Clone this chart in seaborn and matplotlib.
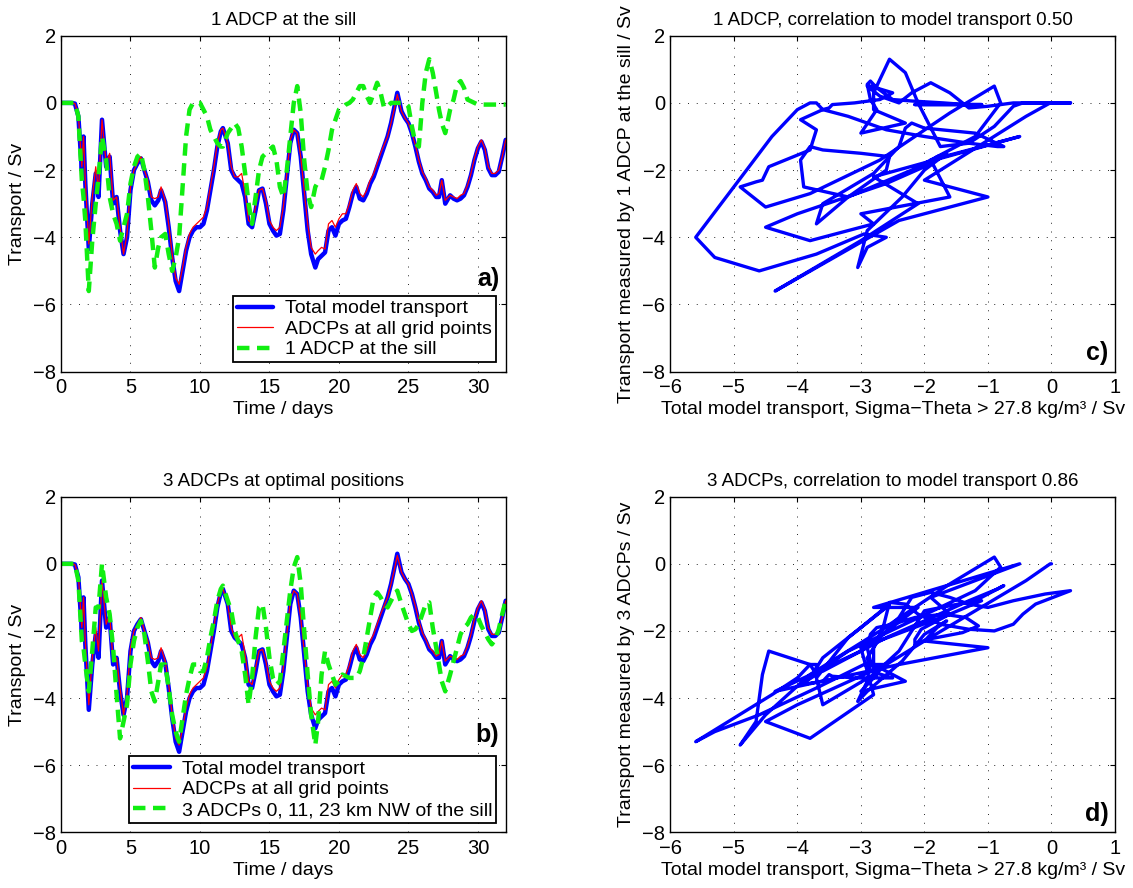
import matplotlib
matplotlib.use("Agg")
import matplotlib.pyplot as plt
import seaborn as sns

# ---------------- data ----------------
time_days = [0, 0.25, 0.5, 0.75, 1.0, 1.25, 1.5, 1.62, 1.75, 2.0,
             2.25, 2.5, 2.7, 2.95, 3.25, 3.5, 3.75, 4.0, 4.25, 4.5,
             4.75, 5.0, 5.25, 5.5, 5.75, 6.0, 6.25, 6.5, 6.75, 7.0,
             7.2, 7.5, 7.75, 8.0, 8.25, 8.5, 8.75, 9.0, 9.25, 9.5,
             9.75, 10.0, 10.25, 10.5, 10.75, 11.0, 11.25, 11.5, 11.65, 12.0,
             12.25, 12.5, 12.75, 13.0, 13.25, 13.5, 13.75, 14.0, 14.25, 14.5,
             14.75, 15.0, 15.25, 15.5, 15.75, 16.0, 16.25, 16.5, 16.75, 17.0,
             17.25, 17.5, 17.75, 18.0, 18.3, 18.5, 18.75, 19.0, 19.25, 19.5,
             19.75, 20.0, 20.25, 20.5, 20.75, 21.0, 21.25, 21.5, 21.75, 22.0,
             22.25, 22.5, 22.75, 23.0, 23.25, 23.5, 23.75, 24.0, 24.2, 24.5,
             24.75, 25.0, 25.25, 25.5, 25.75, 26.0, 26.25, 26.5, 26.75, 27.0,
             27.2, 27.4, 27.65, 28.0, 28.25, 28.5, 28.75, 29.0, 29.25, 29.5,
             29.75, 30.0, 30.25, 30.5, 30.75, 31.0, 31.25, 31.5, 31.75, 32.0]

total_model = [0, 0, 0, 0, -0.02, -0.4, -2.0, -1.0, -2.4, -4.35,
               -3.0, -2.1, -2.8, -0.5, -1.9, -1.6, -3.0, -2.8, -3.8, -4.5,
               -4.0, -2.6, -2.0, -1.8, -1.65, -2.0, -2.35, -2.9, -3.05, -2.9,
               -2.6, -2.95, -3.7, -4.6, -5.3, -5.6, -5.0, -4.4, -4.0, -3.8,
               -3.7, -3.7, -3.6, -3.2, -2.6, -2.0, -1.3, -0.85, -0.75, -1.2,
               -2.0, -2.2, -2.3, -2.4, -2.8, -3.6, -3.7, -3.2, -2.6, -2.55,
               -3.0, -3.6, -3.8, -3.95, -3.9, -3.2, -2.2, -1.2, -0.8, -0.9,
               -1.6, -2.7, -3.8, -4.5, -4.9, -4.65, -4.55, -4.45, -3.8, -3.7,
               -3.95, -3.6, -3.5, -3.45, -3.1, -2.7, -2.5, -2.85, -2.9, -2.7,
               -2.4, -2.2, -1.9, -1.6, -1.3, -1.0, -0.6, -0.1, 0.3, -0.25,
               -0.45, -0.6, -0.9, -1.3, -1.75, -2.1, -2.3, -2.55, -2.65, -2.8,
               -2.8, -2.3, -3.0, -2.75, -2.85, -2.9, -2.85, -2.75, -2.5, -2.15,
               -1.7, -1.35, -1.15, -1.4, -1.95, -2.15, -2.15, -2.05, -1.6, -1.1]

all_grid_points = [0, 0, 0, 0, -0.02, -0.35, -1.9, -1.0, -2.3, -4.2,
                   -2.8, -1.9, -2.6, -0.5, -1.8, -1.5, -2.9, -2.8, -3.7, -4.5,
                   -3.9, -2.5, -2.0, -1.8, -1.6, -2.0, -2.3, -2.8, -2.85, -2.8,
                   -2.5, -2.9, -3.6, -4.5, -5.2, -5.4, -4.9, -4.3, -3.9, -3.7,
                   -3.6, -3.5, -3.4, -3.1, -2.5, -1.9, -1.2, -0.8, -0.75, -1.2,
                   -1.9, -2.2, -2.2, -2.1, -2.7, -3.5, -3.6, -3.1, -2.6, -2.55,
                   -2.9, -3.5, -3.7, -3.8, -3.7, -3.1, -2.1, -1.1, -0.8, -0.9,
                   -1.6, -2.6, -3.6, -4.3, -4.5, -4.4, -4.3, -4.35, -3.6, -3.5,
                   -3.7, -3.45, -3.3, -3.3, -3.0, -2.6, -2.4, -2.7, -2.8, -2.6,
                   -2.3, -2.1, -1.8, -1.5, -1.25, -1.0, -0.6, -0.15, 0.25, -0.25,
                   -0.45, -0.6, -0.9, -1.25, -1.7, -2.05, -2.25, -2.5, -2.6, -2.75,
                   -2.7, -2.3, -2.9, -2.75, -2.8, -2.85, -2.75, -2.7, -2.45, -2.1,
                   -1.65, -1.3, -1.1, -1.35, -1.9, -2.1, -2.1, -2.0, -1.6, -1.1]

one_adcp_sill = [0, 0, 0, 0, 0, -0.4, -2.3, -2.8, -3.5, -5.6,
                 -4.1, -3.0, -2.2, -1.0, -1.7, -2.8, -3.3, -3.6, -4.1, -3.7,
                 -3.3, -2.4, -1.9, -1.6, -1.5, -2.0, -2.8, -3.8, -4.9, -4.3,
                 -4.0, -3.9, -4.5, -5.0, -4.6, -4.0, -2.5, -1.0, -0.2, 0,
                 0, 0, -0.2, -0.4, -0.8, -1.0, -1.2, -1.3, -1.3, -0.9,
                 -0.75, -0.6, -0.75, -1.3, -2.1, -3.0, -3.6, -2.8, -2.0, -1.6,
                 -1.5, -1.4, -1.3, -1.7, -2.5, -2.8, -2.0, -1.0, 0.0, 0.5,
                 -0.3, -1.7, -2.7, -3.1, -2.5, -2.35, -2.3, -1.9, -1.4, -0.8,
                 -0.5, -0.2, -0.15, -0.05, 0, 0.1, 0.3, 0.5, 0.5, 0.2,
                 0.0, 0.3, 0.6, 0.3, -0.15, -0.1, 0, 0, 0, 0,
                 0, -0.1, -0.7, -1.2, -1.3, 0.0, 0.9, 1.3, 0.9, 0.3,
                 -0.2, -0.6, -0.9, -0.2, 0.1, 0.55, 0.65, 0.45, 0.1, 0.05,
                 0.0, -0.05, -0.05, -0.05, -0.05, -0.05, -0.05, -0.05, -0.05, -0.05]

three_adcps = [0, 0, 0, 0, 0, -0.5, -2.3, -2.5, -3.0, -3.8,
               -2.6, -1.3, -1.3, 0.0, -1.0, -1.5, -2.5, -3.9, -5.2, -4.7,
               -4.2, -3.0, -2.3, -1.9, -1.7, -2.1, -2.9, -3.8, -4.1, -3.5,
               -3.0, -3.0, -3.7, -4.5, -5.0, -5.3, -4.6, -3.9, -3.4, -3.0,
               -3.0, -3.2, -3.2, -2.8, -2.2, -1.7, -1.1, -0.75, -0.65, -1.1,
               -1.4, -2.0, -2.3, -2.6, -3.3, -4.2, -3.4, -2.2, -1.3, -1.2,
               -1.9, -2.8, -3.4, -3.6, -3.5, -2.6, -1.7, -0.8, -0.1, 0.2,
               -0.6, -2.0, -3.3, -4.5, -5.4, -4.7, -3.3, -2.6, -3.0, -3.3,
               -3.6, -3.5, -3.3, -3.35, -3.4, -3.4, -3.4, -3.2, -2.8, -2.2,
               -1.6, -1.0, -0.85, -1.0, -1.2, -1.3, -1.1, -0.9, -0.8, -1.2,
               -1.5, -1.8, -2.0, -1.95, -1.8, -1.5, -1.2, -1.15, -1.9, -2.5,
               -3.0, -3.5, -3.8, -3.3, -2.9, -2.5, -2.1, -1.9, -1.8, -1.6,
               -1.5, -1.6, -1.85, -2.05, -2.25, -2.4, -2.25, -1.95, -1.5, -1.1]

series_labels = ["Total model transport", "ADCPs at all grid points"]
label_one = "1 ADCP at the sill"
label_three = "3 ADCPs 0, 11, 23 km NW of the sill"
time_ticks = [0, 5, 10, 15, 20, 25, 30]
transport_ticks = [-8, -6, -4, -2, 0, 2]
model_ticks = [-6, -5, -4, -3, -2, -1, 0, 1]

# ---------------- style ----------------
sns.set_theme(style="white")
plt.rcParams["font.family"] = ["Liberation Sans", "DejaVu Sans"]
plt.rcParams.update({
    "font.size": 14,
    "axes.edgecolor": "black",
    "axes.labelcolor": "black",
    "text.color": "black",
    "xtick.color": "black",
    "ytick.color": "black",
    "axes.linewidth": 1.0,
    "axes.unicode_minus": True,
    "figure.facecolor": "white",
    "axes.facecolor": "white",
})

BLUE = "#0000ff"
RED = "#ff0000"
GREEN = "#11ee11"
FS_TITLE = 13.5
FS_LABEL = 14
FS_TICK = 14.5
FS_LEG = 14

W, H = 1133.0, 888.0
fig = plt.figure(figsize=(W / 100, H / 100), dpi=100)


def make_axes(left, top, right, bottom):
    return fig.add_axes([left / W, (H - bottom) / H, (right - left) / W, (bottom - top) / H])


ax_a = make_axes(61, 35.7, 505.7, 371.7)
ax_b = make_axes(61, 496.7, 505.7, 832.3)
ax_c = make_axes(670.3, 35.7, 1115, 371.7)
ax_d = make_axes(670.3, 496.7, 1115, 832.3)


def style_axes(ax, xlim, xticks):
    ax.set_xlim(*xlim)
    ax.set_ylim(-8, 2)
    ax.set_xticks(xticks)
    ax.set_yticks(transport_ticks)
    ax.grid(True, color="0.15", linewidth=0.7, linestyle=(0, (1.0, 8.0)))
    ax.set_axisbelow(True)
    ax.tick_params(axis="both", direction="in", length=3.8, width=0.8,
                   top=True, right=True, labelsize=FS_TICK)
    ax.tick_params(axis="x", pad=4.5)
    ax.tick_params(axis="y", pad=3.5)
    for sp in ax.spines.values():
        sp.set_visible(True)
        sp.set_color("black")
        sp.set_linewidth(1.0)


def tag(ax, text, ypos):
    ax.text(0.985, ypos, text, transform=ax.transAxes, ha="right", va="bottom",
            fontsize=18, fontweight="bold")


def time_panel(ax, green, green_label, title, tag_text, tag_y):
    sns.lineplot(x=time_days, y=total_model, ax=ax, color=BLUE, linewidth=3.2,
                 label=series_labels[0], estimator=None, sort=False)
    sns.lineplot(x=time_days, y=all_grid_points, ax=ax, color=RED, linewidth=0.9,
                 label=series_labels[1], estimator=None, sort=False)
    sns.lineplot(x=time_days, y=green, ax=ax, color=GREEN, linewidth=3.2,
                 label=green_label, estimator=None, sort=False)
    ax.lines[-1].set_dashes((2.8, 1.7))
    style_axes(ax, (0, 32), time_ticks)
    ax.set_title(title, fontsize=FS_TITLE, pad=7.5)
    ax.set_xlabel("Time / days", fontsize=FS_LABEL, labelpad=3)
    ax.set_ylabel("Transport / Sv", fontsize=FS_LABEL, labelpad=5)
    handles, labels = ax.get_legend_handles_labels()
    leg = ax.legend(handles, labels, loc="lower right",
                    bbox_to_anchor=(0.978, 0.028), borderaxespad=0,
                    fontsize=FS_LEG, frameon=True, fancybox=False, shadow=False,
                    framealpha=1, edgecolor="black", borderpad=0.2,
                    labelspacing=0.15, handlelength=1.9, handletextpad=0.6)
    leg.get_frame().set_linewidth(1.3)
    tag(ax, tag_text, tag_y)


def scatter_panel(ax, measured, title, ylabel, tag_text):
    sns.lineplot(x=total_model, y=measured, ax=ax, color=BLUE, linewidth=2.4,
                 estimator=None, sort=False, legend=False)
    style_axes(ax, (-6, 1), model_ticks)
    ax.set_title(title, fontsize=FS_TITLE, pad=7.5)
    ax.set_xlabel("Total model transport, Sigma\u2212Theta > 27.8 kg/m\u00b3 / Sv",
                  fontsize=FS_LABEL, labelpad=3)
    ax.set_ylabel(ylabel, fontsize=FS_LABEL, labelpad=5)
    tag(ax, tag_text, 0.02)


time_panel(ax_a, one_adcp_sill, label_one, "1 ADCP at the sill", "a)", 0.24)
time_panel(ax_b, three_adcps, label_three, "3 ADCPs at optimal positions", "b)", 0.255)
scatter_panel(ax_c, one_adcp_sill, "1 ADCP, correlation to model transport 0.50",
              "Transport measured by 1 ADCP at the sill / Sv", "c)")
scatter_panel(ax_d, three_adcps, "3 ADCPs, correlation to model transport 0.86",
              "Transport measured by 3 ADCPs / Sv", "d)")

fig.savefig("out.png", dpi=100, facecolor="white")
